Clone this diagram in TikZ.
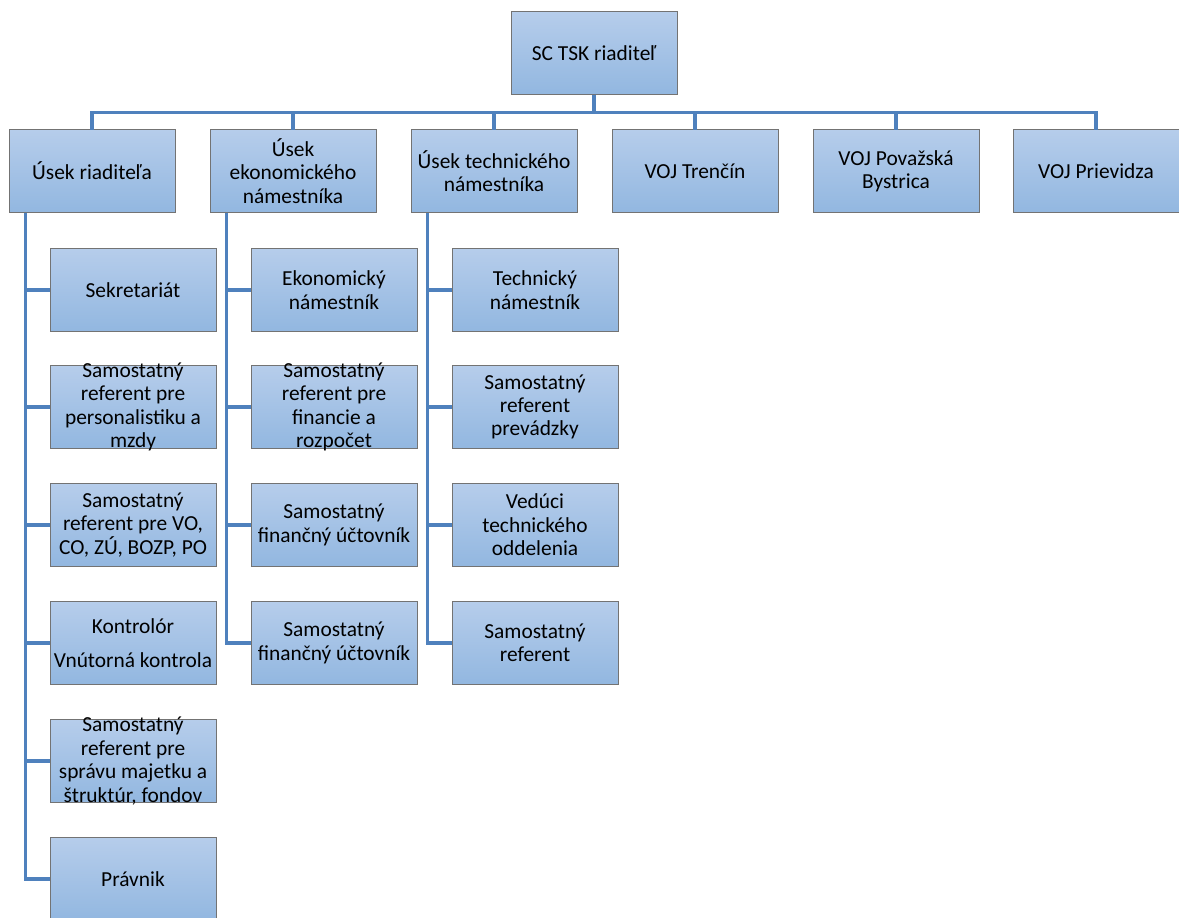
\documentclass[tikz,border=0pt]{standalone}
\usepackage{fontspec}
\setmainfont{Carlito}
\definecolor{boxtop}{RGB}{182,205,235}
\definecolor{boxbot}{RGB}{146,183,224}
\definecolor{boxborder}{RGB}{115,115,115}
\definecolor{conncol}{RGB}{79,129,189}
\newcommand\orgbox[4]{\node[box] (#1) at (#2,#3) {}; \node[txt] (#1t) at (#1) {#4};}
\begin{document}
\begin{tikzpicture}[x=1pt,y=-1pt,
  box/.style={draw=boxborder, line width=0.9pt, top color=boxtop, bottom color=boxbot,
    minimum width=166pt, minimum height=83pt, inner sep=0pt, outer sep=0pt},
  txt/.style={align=center, font=\fontsize{21.4}{23.4}\selectfont, inner sep=0pt},
  conn/.style={draw=conncol, line width=3.2pt}]
\useasboundingbox (0,0) rectangle (1179,918);
% top
\orgbox{top}{594}{53}{SC TSK riaditeľ}
% level 1
\orgbox{a}{92}{171}{Úsek riaditeľa}
\orgbox{b}{293}{171}{Úsek\\ekonomického\\námestníka}
\orgbox{c}{494}{171}{Úsek technického\\námestníka}
\orgbox{d}{695}{171}{VOJ Trenčín}
\orgbox{e}{896}{171}{VOJ Považská\\Bystrica}
\orgbox{f}{1096}{171}{VOJ Prievidza}
% column a
\orgbox{a1}{133}{290}{Sekretariát}
\orgbox{a2}{133}{407}{Samostatný\\referent pre\\personalistiku a\\mzdy}
\orgbox{a3}{133}{525}{Samostatný\\referent pre VO,\\CO, ZÚ, BOZP, PO}
\orgbox{a4}{133}{643}{Kontrolór\\[10pt]Vnútorná kontrola}
\orgbox{a5}{133}{761}{Samostatný\\referent pre\\správu majetku a\\štruktúr, fondov}
\orgbox{a6}{133}{879}{Právnik}
% column b
\orgbox{b1}{334}{290}{Ekonomický\\námestník}
\orgbox{b2}{334}{407}{Samostatný\\referent pre\\financie a\\rozpočet}
\orgbox{b3}{334}{525}{Samostatný\\finančný účtovník}
\orgbox{b4}{334}{643}{Samostatný\\finančný účtovník}
% column c
\orgbox{c1}{535}{290}{Technický\\námestník}
\orgbox{c2}{535}{407}{Samostatný\\referent\\prevádzky}
\orgbox{c3}{535}{525}{Vedúci\\technického\\oddelenia}
\orgbox{c4}{535}{643}{Samostatný\\referent}
% connectors
\foreach \n in {a,b,c,d,e,f}{
  \draw[conn] (top.south) -- ++(0,18) -| (\n.north);
}
\foreach \n in {a1,a2,a3,a4,a5,a6}{
  \draw[conn] ([xshift=16.5pt]a.south west) |- (\n.west);
}
\foreach \n in {b1,b2,b3,b4}{
  \draw[conn] ([xshift=16.5pt]b.south west) |- (\n.west);
}
\foreach \n in {c1,c2,c3,c4}{
  \draw[conn] ([xshift=16.5pt]c.south west) |- (\n.west);
}
\end{tikzpicture}
\end{document}
